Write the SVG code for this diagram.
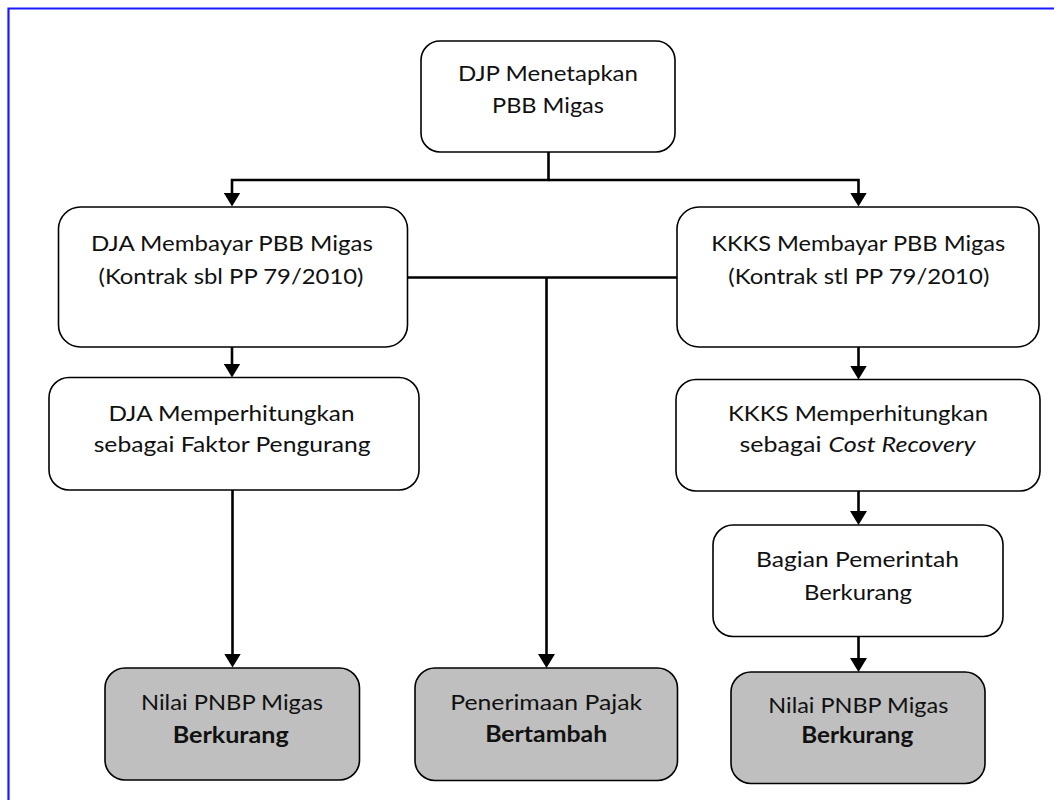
<svg xmlns="http://www.w3.org/2000/svg" width="1054" height="800" viewBox="0 0 1054 800">
<style>
.box{fill:#ffffff;stroke:#000000;stroke-width:1.6}
.res{fill:#bfbfbf;stroke:#000000;stroke-width:1.6}
.t{font-family:Lato,"Open Sans","Liberation Sans",sans-serif;font-size:22px;fill:#111111;text-anchor:middle}
.b{font-weight:bold}
.i{font-style:italic}
.c{fill:none;stroke:#000000;stroke-width:2.6}
.ca{fill:none;stroke:#000000;stroke-width:2.6;marker-end:url(#ah)}
</style>
<defs>
<marker id="ah" viewBox="0 0 14 17" refX="10" refY="8.5" markerWidth="14" markerHeight="17" markerUnits="userSpaceOnUse" orient="auto">
<path d="M0,0 L14,8.5 L0,17 z" fill="#000000"/>
</marker>
</defs>
<rect width="1054" height="800" fill="#ffffff"/>
<path d="M8.5,800 V8.5 H1054" fill="none" stroke="#1a1aff" stroke-width="2.2"/>

<g id="connectors">
<path class="ca" d="M548.5,152 V180 H232 V202.5"/>
<path class="ca" d="M548.5,180 H858.5 V202.5"/>
<path class="ca" d="M232,347 V373.5"/>
<path class="ca" d="M232.5,490 V663.5"/>
<path class="c" d="M408,277.5 H677"/>
<path class="ca" d="M546.5,277.5 V664"/>
<path class="ca" d="M858.5,347 V375.5"/>
<path class="ca" d="M858.5,491 V521"/>
<path class="ca" d="M858.5,636.5 V668"/>
</g>

<g id="n-djp">
<rect class="box" x="421" y="41" width="254" height="111" rx="19"/>
<text class="t" x="548" y="81" textLength="180" lengthAdjust="spacingAndGlyphs">DJP Menetapkan</text>
<text class="t" x="548" y="113" textLength="112" lengthAdjust="spacingAndGlyphs">PBB Migas</text>
</g>

<g id="n-dja-bayar">
<rect class="box" x="58.5" y="207" width="349" height="140" rx="22"/>
<text class="t" x="232" y="251" textLength="282" lengthAdjust="spacingAndGlyphs">DJA Membayar PBB Migas</text>
<text class="t" x="231" y="283.5" textLength="265" lengthAdjust="spacingAndGlyphs">(Kontrak sbl PP 79/2010)</text>
</g>

<g id="n-kkks-bayar">
<rect class="box" x="677" y="207" width="362" height="140" rx="22"/>
<text class="t" x="858.3" y="251" textLength="294" lengthAdjust="spacingAndGlyphs">KKKS Membayar PBB Migas</text>
<text class="t" x="858.8" y="283.5" textLength="261" lengthAdjust="spacingAndGlyphs">(Kontrak stl PP 79/2010)</text>
</g>

<g id="n-dja-hitung">
<rect class="box" x="49" y="377.5" width="370" height="112.5" rx="20"/>
<text class="t" x="231.5" y="420.5" textLength="246" lengthAdjust="spacingAndGlyphs">DJA Memperhitungkan</text>
<text class="t" x="232.2" y="451.5" textLength="277" lengthAdjust="spacingAndGlyphs">sebagai Faktor Pengurang</text>
</g>

<g id="n-kkks-hitung">
<rect class="box" x="676" y="379.5" width="364" height="111.5" rx="20"/>
<text class="t" x="858" y="420.5" textLength="260" lengthAdjust="spacingAndGlyphs">KKKS Memperhitungkan</text>
<text class="t" y="451.5" style="text-anchor:start"><tspan x="739.5" textLength="82" lengthAdjust="spacingAndGlyphs">sebagai</tspan><tspan class="i" x="828.5" textLength="147" lengthAdjust="spacingAndGlyphs">Cost Recovery</tspan></text>
</g>

<g id="n-bagian">
<rect class="box" x="713" y="525" width="290" height="111.5" rx="20"/>
<text class="t" x="857.5" y="566.7" textLength="203" lengthAdjust="spacingAndGlyphs">Bagian Pemerintah</text>
<text class="t" x="858" y="600" textLength="108" lengthAdjust="spacingAndGlyphs">Berkurang</text>
</g>

<g id="n-pnbp-left">
<rect class="res" x="105" y="668" width="254.5" height="112" rx="20"/>
<text class="t" x="232" y="710" textLength="182" lengthAdjust="spacingAndGlyphs">Nilai PNBP Migas</text>
<text class="t b" x="230.7" y="742.5" textLength="116" lengthAdjust="spacingAndGlyphs">Berkurang</text>
</g>

<g id="n-pajak">
<rect class="res" x="415" y="668" width="262.5" height="112.5" rx="20"/>
<text class="t" x="546.2" y="710" textLength="192" lengthAdjust="spacingAndGlyphs">Penerimaan Pajak</text>
<text class="t b" x="546.2" y="741.7" textLength="122" lengthAdjust="spacingAndGlyphs">Bertambah</text>
</g>

<g id="n-pnbp-right">
<rect class="res" x="731" y="672" width="254" height="111.5" rx="20"/>
<text class="t" x="858.3" y="713.3" textLength="180" lengthAdjust="spacingAndGlyphs">Nilai PNBP Migas</text>
<text class="t b" x="857.2" y="743.3" textLength="112" lengthAdjust="spacingAndGlyphs">Berkurang</text>
</g>
</svg>
